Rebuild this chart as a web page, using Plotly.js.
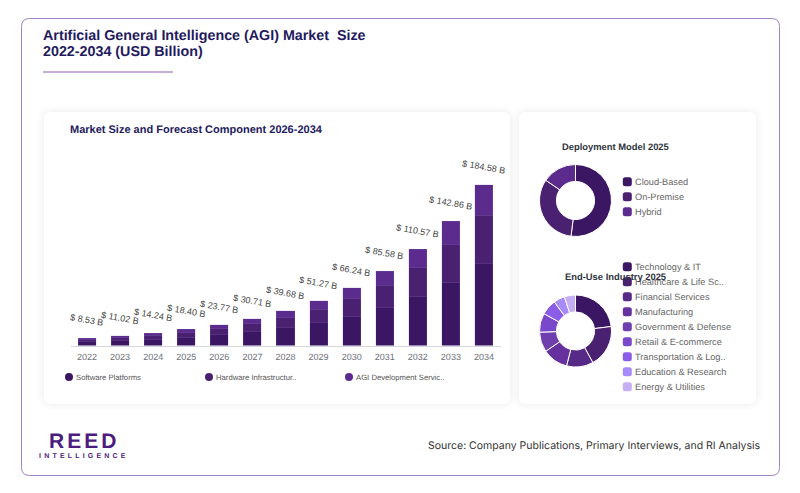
<!DOCTYPE html>
<html><head><meta charset="utf-8">
<script src="https://cdn.plot.ly/plotly-3.0.1.min.js"></script>
<style>
html,body{margin:0;padding:0;background:#fff;width:800px;height:493px;overflow:hidden}
.card{position:absolute;top:112px;height:292px;background:#fff;border-radius:6px;box-shadow:0 0 10px rgba(0,0,0,.09)}
#chart{position:absolute;left:0;top:0;width:800px;height:493px}
svg text{text-rendering:geometricPrecision}
</style></head><body>
<div class="card" style="left:44px;width:466px"></div>
<div class="card" style="left:519px;width:237px"></div>
<div id="chart"></div>
<script>
const years=["2022","2023","2024","2025","2026","2027","2028","2029","2030","2031","2032","2033","2034"];
const totals=[8.53,11.02,14.24,18.40,23.77,30.71,39.68,51.27,66.24,85.58,110.57,142.86,184.58];
const softwarePlatforms=[4.35,5.62,7.26,9.38,12.12,15.66,20.24,26.15,33.78,43.65,56.39,72.86,94.14];
const hardwareInfrastructure=[2.56,3.31,4.27,5.52,7.13,9.21,11.90,15.38,19.87,25.67,33.17,42.86,55.37];
const agiDevelopment=[1.62,2.09,2.71,3.50,4.52,5.84,7.54,9.74,12.59,16.26,21.01,27.14,35.07];
const seriesNames=["Software Platforms","Hardware Infrastructur..","AGI Development Servic.."];
const seriesColors=["#3b1763","#4a2170","#5b2c8d"];
const deployLabels=["Cloud-Based","On-Premise","Hybrid"];
const deployValues=[52,32.5,15.5];
const deployColors=["#3b1763","#4a2170","#5b2c8d"];
const industryLabels=["Technology & IT","Healthcare & Life Sc..","Financial Services","Manufacturing","Government & Defense","Retail & E-commerce","Transportation & Log..","Education & Research","Energy & Utilities"];
const industryValues=[23,19,12,11.5,9,8.5,7,5,5];
const industryColors=["#3b1763","#4a2170","#562a86","#67309f","#6f3fae","#7a48cb","#8b5ce6","#a78bfa","#c6aef5"];

const X=p=>p/800, Y=p=>1-p/493;
const SANS="Liberation Sans, Arial, sans-serif";
const barTrace=(vals,i)=>({type:"bar",x:years,y:vals,name:seriesNames[i],
  marker:{color:seriesColors[i],line:{color:"rgba(150,115,200,0.35)",width:0.5}},hoverinfo:"skip",showlegend:false});
const pie=(labels,values,colors,cy)=>({type:"pie",labels,values,sort:false,direction:"clockwise",rotation:0,hole:0.53,
  textinfo:"none",hoverinfo:"skip",showlegend:false,
  marker:{colors,line:{color:"#ffffff",width:1}},
  domain:{x:[X(539.5),X(611.5)],y:[Y(cy+36),Y(cy-36)]}});
const data=[barTrace(softwarePlatforms,0),barTrace(hardwareInfrastructure,1),barTrace(agiDevelopment,2),
  pie(deployLabels,deployValues,deployColors,200.5),pie(industryLabels,industryValues,industryColors,331)];

const ann=[],shp=[];
const txt=(text,px,py,size,color,opts={})=>ann.push(Object.assign({text,x:X(px),y:Y(py),xref:"paper",yref:"paper",
  xanchor:"left",yanchor:"middle",xshift:-2,align:"left",showarrow:false,font:{family:SANS,size,color}},opts));
// frame
const fx0=21.5,fx1=779.5,fy0=18.5,fy1=475.5,r=8;
shp.push({type:"path",xref:"paper",yref:"paper",layer:"below",line:{color:"#a283c6",width:1},
  path:`M ${X(fx0+r)} ${Y(fy0)} L ${X(fx1-r)} ${Y(fy0)} Q ${X(fx1)} ${Y(fy0)} ${X(fx1)} ${Y(fy0+r)} L ${X(fx1)} ${Y(fy1-r)} Q ${X(fx1)} ${Y(fy1)} ${X(fx1-r)} ${Y(fy1)} L ${X(fx0+r)} ${Y(fy1)} Q ${X(fx0)} ${Y(fy1)} ${X(fx0)} ${Y(fy1-r)} L ${X(fx0)} ${Y(fy0+r)} Q ${X(fx0)} ${Y(fy0)} ${X(fx0+r)} ${Y(fy0)} Z`});
shp.push({type:"line",xref:"paper",yref:"paper",x0:X(43),x1:X(173),y0:Y(72),y1:Y(72),line:{color:"#8a5fb3",width:1}});
// titles
txt("<b>Artificial General Intelligence (AGI) Market\u00a0 Size</b>",43,36,14.3,"#231a5e");
txt("<b>2022-2034 (USD Billion)</b>",43,51.5,14.3,"#231a5e");
txt("<b>Market Size and Forecast Component 2026-2034</b>",70,130.5,11,"#231a5e");
txt("<b>Deployment Model 2025</b>",615,146,9.4,"#2f3440",{xanchor:"center",xshift:0,align:"center"});
// bar value labels
years.forEach((yr,i)=>ann.push({text:"$ "+totals[i].toFixed(2)+" B",x:i,y:totals[i],xref:"x",yref:"y",showarrow:false,
  yshift:18,textangle:10,font:{family:SANS,size:9,color:"#444444"}}));
// bottom legend
[69,209,349].forEach((cx,i)=>{
  shp.push({type:"circle",xref:"paper",yref:"paper",x0:X(cx-4),x1:X(cx+4),y0:Y(381),y1:Y(373),fillcolor:seriesColors[i],line:{width:0}});
  txt(seriesNames[i],cx+7,377,7.7,"#555555");
});
// donut legends
const sw=(cy,c)=>{const l=622.8,rr=622.8+9,t=cy-4.5,b=cy+4.5,q=2.5;
  shp.push({type:"path",xref:"paper",yref:"paper",fillcolor:c,line:{width:0},
   path:`M ${X(l+q)} ${Y(t)} L ${X(rr-q)} ${Y(t)} Q ${X(rr)} ${Y(t)} ${X(rr)} ${Y(t+q)} L ${X(rr)} ${Y(b-q)} Q ${X(rr)} ${Y(b)} ${X(rr-q)} ${Y(b)} L ${X(l+q)} ${Y(b)} Q ${X(l)} ${Y(b)} ${X(l)} ${Y(b-q)} L ${X(l)} ${Y(t+q)} Q ${X(l)} ${Y(t)} ${X(l+q)} ${Y(t)} Z`});};
deployLabels.forEach((t,i)=>{const cy=181.8+15*i;sw(cy,deployColors[i]);txt(t,635,cy,9.2,"#666666");});
industryLabels.forEach((t,i)=>{const cy=266.8+15*i;sw(cy,industryColors[i]);txt(t,635,cy,9.2,"#666666");});
txt("<b>End-Use Industry 2025</b>",615,276,9.4,"#2f3440",{xanchor:"center",xshift:0,align:"center"});
// logo and source
txt("<b>REED</b>",49,441,21,"#4d1c80");
txt("<b>INTELLIGENCE</b>",39,456,7,"#4d1c80");
txt("Source: Company Publications, Primary Interviews, and RI Analysis",759,445,10.5,"#333333",{xanchor:"right",align:"right",xshift:2.5,font:{family:"Inter, sans-serif",size:10.5,color:"#333333"}});

const layout={width:800,height:493,margin:{l:0,r:0,t:0,b:0,pad:0},paper_bgcolor:"rgba(0,0,0,0)",plot_bgcolor:"rgba(0,0,0,0)",
  barmode:"stack",bargap:0.455,showlegend:false,
  xaxis:{type:"category",categoryorder:"array",categoryarray:years,domain:[X(70.5),X(500.5)],range:[-0.5,12.5],anchor:"y",
    showgrid:false,zeroline:false,showline:true,linecolor:"#d6d6e0",linewidth:1,ticks:"",ticklabelstandoff:3,
    tickfont:{family:SANS,size:9,color:"#6e7079"},fixedrange:true},
  yaxis:{domain:[Y(345.5),Y(140)],range:[0,236.2],visible:false,fixedrange:true},
  annotations:ann,shapes:shp};
Plotly.newPlot("chart",data,layout,{displayModeBar:false,staticPlot:true}).then(()=>{
  document.querySelectorAll(".annotation-text").forEach(t=>{
    if(t.textContent==="REED")t.style.letterSpacing="3px";
    if(t.textContent==="INTELLIGENCE")t.style.letterSpacing="3.2px";
  });
});
</script></body></html>
